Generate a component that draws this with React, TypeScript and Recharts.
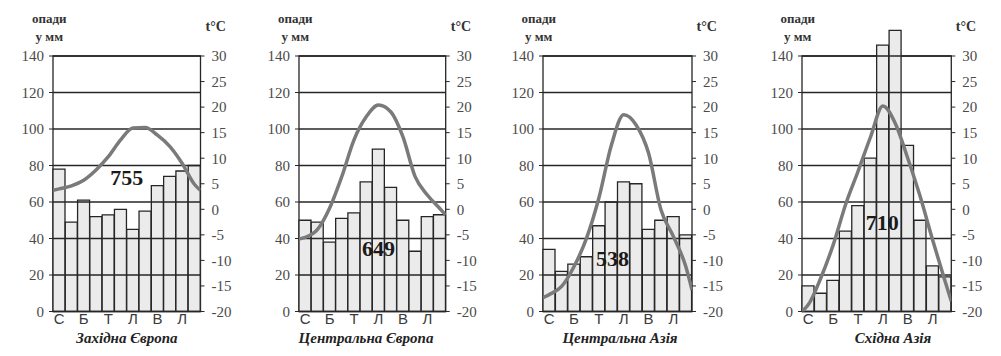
import {
  ComposedChart,
  Bar,
  Line,
  XAxis,
  YAxis,
  ReferenceLine,
  ReferenceArea,
  ReferenceDot,
} from 'recharts'

// місяці під стовпчиками (підписано через один)
const monthLabels = ['С', '', 'Б', '', 'Т', '', 'Л', '', 'В', '', 'Л', '']
const precipTicks = [0, 20, 40, 60, 80, 100, 120, 140]
const tempTicks = [-20, -15, -10, -5, 0, 5, 10, 15, 20, 25, 30]

// опади, мм
const precipWest = [78, 49, 61, 52, 53, 56, 45, 55, 69, 74, 77, 80]
const precipCentral = [50, 49, 38, 51, 54, 71, 89, 68, 50, 33, 52, 53]
const precipAsia = [34, 22, 26, 30, 47, 60, 71, 70, 45, 50, 52, 42]
const precipEast = [14, 10, 17, 44, 58, 84, 146, 154, 91, 50, 25, 19]

// температура, °C
const tempWest = [4.0, 4.6, 5.7, 7.7, 10.3, 13.6, 15.9, 16.0, 14.5, 12.3, 9.0, 4.9]
const tempCentral = [-5.5, -4.0, 0.2, 6.4, 13.6, 18.1, 20.4, 19.1, 14.2, 6.4, 2.8, 0.2]
const tempAsia = [-16.7, -15.1, -11.2, -5.7, 2.2, 12.5, 18.5, 16.5, 11, -0.1, -5.3, -11.2]
const tempEast = [-18.7, -13.5, -7.0, 0.9, 7.4, 14.1, 20.2, 16.8, 10.0, 2.5, -6.0, -14.1]

// значення кривої на лівому та правому краях графіка
const edgeWest = [3.7, 3.7]
const edgeCentral = [-5.8, -1.1]
const edgeAsia = [-17.3, -15.8]
const edgeEast = [-20, -18.0]

const totals = ['755', '649', '538', '710']
const titles = ['Західна Європа', 'Центральна Європа', 'Центральна Азія', 'Східна Азія']

const charts = [
  { precip: precipWest, temp: tempWest, edge: edgeWest, left: 53.3, plotW: 147.5, total: totals[0], totalAt: [6.0, 73.7], title: titles[0], titleX: 127 },
  { precip: precipCentral, temp: tempCentral, edge: edgeCentral, left: 299.3, plotW: 146.7, total: totals[1], totalAt: [6.5, 34.8], title: titles[1], titleX: 366 },
  { precip: precipAsia, temp: tempAsia, edge: edgeAsia, left: 542.7, plotW: 149, total: totals[2], totalAt: [5.6, 29.3], title: titles[2], titleX: 620 },
  { precip: precipEast, temp: tempEast, edge: edgeEast, left: 801.7, plotW: 149.3, total: totals[3], totalAt: [6.45, 49], title: titles[3], titleX: 893 },
]

const INK = '#262626'
const serif = '"Liberation Serif", "Times New Roman", Times, serif'
const sans = '"Liberation Sans", Arial, sans-serif'

const PLOT_TOP = 19.5 // піксель для 160 мм
const PLOT_BOTTOM = 311.5 // піксель для 0 мм
const CHART_H = 356

function ClimateChart({ cfg }: { cfg: (typeof charts)[number] }) {
  const data = cfg.precip.map((p, i) => ({ m: i, p }))
  const lineData = [
    { x: 0, t: cfg.edge[0] },
    ...cfg.temp.map((t, i) => ({ x: i + 0.5, t })),
    { x: 12, t: cfg.edge[1] },
  ]
  const width = cfg.plotW + 53 + 50

  return (
    <div style={{ position: 'absolute', left: cfg.left - 53, top: 0, fontFamily: serif }}>
      <ComposedChart
        width={width}
        height={CHART_H}
        data={data}
        barCategoryGap={0}
        barGap={0}
        margin={{ top: PLOT_TOP, right: 5, bottom: CHART_H - PLOT_BOTTOM - 20, left: 8 }}
      >
        <XAxis
          xAxisId="cat"
          dataKey="m"
          type="category"
          interval={0}
          tickFormatter={(v: number) => monthLabels[v]}
          tick={{ fontSize: 15, fill: '#3a3a3a', fontFamily: sans }}
          tickLine={false}
          axisLine={false}
          tickSize={0}
          tickMargin={2}
          height={20}
        />
        <XAxis xAxisId="num" type="number" dataKey="x" domain={[0, 12]} allowDataOverflow hide />
        <YAxis
          yAxisId="p"
          domain={[0, 160]}
          ticks={precipTicks}
          allowDataOverflow
          width={45}
          axisLine={false}
          tickSize={4}
          tickMargin={5}
          tickLine={{ stroke: INK }}
          tick={{ fontSize: 15, fill: '#4a4a4a', fontFamily: serif }}
        />
        <YAxis
          yAxisId="t"
          orientation="right"
          domain={[-20, 30 + (20 * 50) / 140]}
          ticks={tempTicks}
          allowDataOverflow
          width={45}
          axisLine={false}
          tickSize={4}
          tickMargin={7}
          tickLine={{ stroke: INK }}
          tick={{ fontSize: 15, fill: '#4a4a4a', fontFamily: serif, textAnchor: 'start' }}
        />
        <Bar
          xAxisId="cat"
          yAxisId="p"
          dataKey="p"
          fill="#ebebeb"
          stroke={INK}
          strokeWidth={1.3}
          isAnimationActive={false}
        />
        {precipTicks.map((v) => (
          <ReferenceLine key={v} xAxisId="num" yAxisId="p" y={v} stroke={INK} strokeWidth={1.3} />
        ))}
        <ReferenceArea
          xAxisId="num"
          yAxisId="p"
          x1={0}
          x2={12}
          y1={0}
          y2={140}
          fill="none"
          fillOpacity={0}
          stroke={INK}
          strokeWidth={1.3}
        />
        <Line
          xAxisId="num"
          yAxisId="t"
          data={lineData}
          dataKey="t"
          type="monotone"
          stroke="#7a7a7a"
          strokeWidth={3.5}
          dot={false}
          activeDot={false}
          isAnimationActive={false}
        />
        <ReferenceDot
          xAxisId="num"
          yAxisId="p"
          x={cfg.totalAt[0]}
          y={cfg.totalAt[1]}
          r={0}
          fill="none"
          stroke="none"
          label={{
            value: cfg.total,
            position: 'center',
            fill: '#1a1a1a',
            fontSize: 22,
            fontWeight: 'bold',
            fontFamily: serif,
          }}
        />
      </ComposedChart>
      <div style={{ position: 'absolute', left: 53 - 4, top: 10, transform: 'translateX(-50%)', textAlign: 'center', fontWeight: 'bold', fontSize: 13, lineHeight: '18px', color: '#333', whiteSpace: 'nowrap' }}>
        опади<br />у мм
      </div>
      <div style={{ position: 'absolute', left: 53 + cfg.plotW + 15, top: 19, transform: 'translateX(-50%)', fontWeight: 'bold', fontSize: 14, color: '#333', whiteSpace: 'nowrap' }}>
        t°C
      </div>
      <div style={{ position: 'absolute', left: cfg.titleX - cfg.left + 53, top: 331, transform: 'translateX(-50%)', fontWeight: 'bold', fontStyle: 'italic', fontSize: 15, lineHeight: '15px', color: '#222', whiteSpace: 'nowrap' }}>
        {cfg.title}
      </div>
    </div>
  )
}

export default function App() {
  return (
    <div style={{ position: 'relative', width: 1001, height: 356, background: '#e3f1fb', overflow: 'hidden', margin: -8 }}>
      <div style={{ position: 'absolute', left: 5, top: 5, right: 0, bottom: 0, background: '#ffffff' }} />
      {charts.map((c) => (
        <ClimateChart key={c.title} cfg={c} />
      ))}
    </div>
  )
}
